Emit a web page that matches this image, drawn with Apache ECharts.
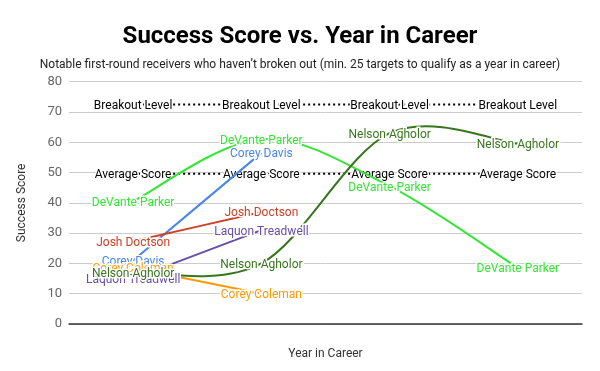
<!DOCTYPE html>
<html>
<head>
<meta charset="utf-8">
<script src="https://cdn.jsdelivr.net/npm/echarts@6/dist/echarts.min.js"></script>
<style>html,body{margin:0;padding:0;background:#fff}#c{width:600px;height:371px}</style>
</head>
<body>
<div id="c"></div>
<script>
const categories = ['1', '2', '3', '4'];
const yTicks = [0, 10, 20, 30, 40, 50, 60, 70, 80];
const breakoutLevel = [72.5, 72.5, 72.5, 72.5];
const averageScore = [49.6, 49.6, 49.6, 49.6];
const devanteParker = [40.5, 61, 45.5, 18.5];
const coreyDavis = [21, 56.5, null, null];
const joshDoctson = [27.3, 37, null, null];
const laquonTreadwell = [15, 31, null, null];
const coreyColeman = [18.5, 10, null, null];
const nelsonAgholor = [17, 20, 63, 59.5];

const FONT = 'Roboto';
function lbl(color) {
  return {
    show: true, position: 'inside', offset: [0, 1.5], formatter: '{a}', color: color,
    fontFamily: FONT, fontSize: 12, textBorderColor: '#fff', textBorderWidth: 3
  };
}
function refSeries(name, data) {
  return {
    name, type: 'line', data, symbol: 'circle', symbolSize: 0,
    lineStyle: { color: '#000', width: 2, type: [2, 3] },
    itemStyle: { color: '#000' }, label: lbl('#000'), z: 2
  };
}
// labels only (line hidden); the curve itself is drawn by curveSeries
function labelSeries(name, data, color) {
  return {
    name, type: 'line', data, symbol: 'circle', symbolSize: 0,
    lineStyle: { color, width: 0, opacity: 0 }, itemStyle: { color },
    label: lbl(color), z: 4
  };
}
// Catmull-Rom style smooth curve through the data points, via the axes' coordinates
function curveSeries(name, data, color) {
  return {
    name: name + ' curve', type: 'custom', z: 3, silent: true,
    data: data.map((v, i) => [i, v == null ? 0 : v]),
    renderItem: function (params, api) {
      const i = params.dataIndex;
      if (data[i] == null || i + 1 >= data.length || data[i + 1] == null) return null;
      const P = k => api.coord([k, data[k]]);
      const p0 = P(i), p1 = P(i + 1);
      const pm = (i > 0 && data[i - 1] != null) ? P(i - 1) : p0;
      const pn = (i + 2 < data.length && data[i + 2] != null) ? P(i + 2) : p1;
      const c1 = [p0[0] + (p1[0] - pm[0]) / 6, p0[1] + (p1[1] - pm[1]) / 6];
      const c2 = [p1[0] - (pn[0] - p0[0]) / 6, p1[1] - (pn[1] - p0[1]) / 6];
      return {
        type: 'bezierCurve',
        shape: { x1: p0[0], y1: p0[1], x2: p1[0], y2: p1[1], cpx1: c1[0], cpy1: c1[1], cpx2: c2[0], cpy2: c2[1] },
        style: { stroke: color, lineWidth: 2, fill: 'none' }
      };
    }
  };
}
const players = [
  ['DeVante Parker', devanteParker, '#33e633'],
  ['Corey Davis', coreyDavis, '#4a86e8'],
  ['Josh Doctson', joshDoctson, '#cc4125'],
  ['Laquon Treadwell', laquonTreadwell, '#674ea7'],
  ['Corey Coleman', coreyColeman, '#ff9900'],
  ['Nelson Agholor', nelsonAgholor, '#38761d']
];
const series = [refSeries('Breakout Level', breakoutLevel), refSeries('Average Score', averageScore)];
players.forEach(p => series.push(curveSeries(p[0], p[1], p[2])));
players.forEach(p => series.push(labelSeries(p[0], p[1], p[2])));

const chart = echarts.init(document.getElementById('c'));
chart.setOption({
  animation: false,
  title: {
    text: 'Success Score vs. Year in Career',
    subtext: 'Notable first-round receivers who haven\u2019t broken out (min. 25 targets to qualify as a year in career)',
    left: 'center', top: 20, itemGap: 10,
    textStyle: { fontFamily: FONT, fontSize: 24, fontWeight: 'bold', color: '#000' },
    subtextStyle: { fontFamily: FONT, fontSize: 12, color: '#222' }
  },
  grid: { left: 69, right: 18, top: 81.7, bottom: 47 },
  xAxis: {
    type: 'category', data: categories, boundaryGap: true,
    name: 'Year in Career', nameLocation: 'middle', nameGap: 24,
    nameTextStyle: { fontFamily: FONT, fontSize: 12, color: '#333' },
    axisLine: { lineStyle: { color: '#333', width: 1.5 } },
    axisTick: { show: false }, axisLabel: { show: false }
  },
  yAxis: {
    type: 'value', min: yTicks[0], max: yTicks[yTicks.length - 1], interval: 10,
    name: 'Success Score', nameLocation: 'middle', nameGap: 41,
    nameTextStyle: { fontFamily: FONT, fontSize: 12, color: '#333' },
    axisLine: { show: false }, axisTick: { show: false },
    axisLabel: { fontFamily: FONT, fontSize: 13, color: '#666', margin: 7 },
    splitLine: { lineStyle: { color: '#ccc' } }
  },
  series: series
});
</script>
</body>
</html>
